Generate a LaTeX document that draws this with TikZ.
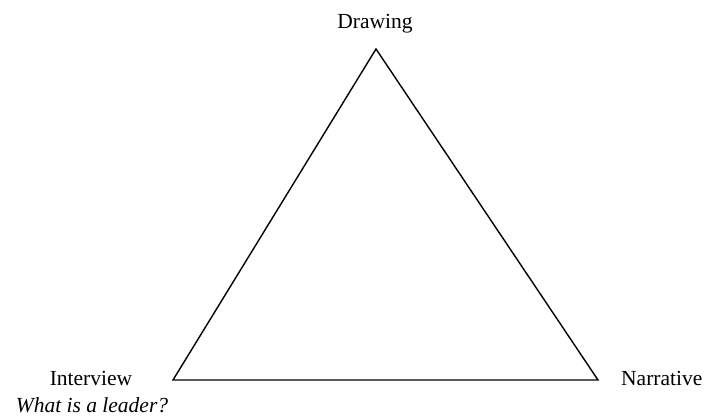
\documentclass[tikz,border=0pt]{standalone}
\usepackage{fontspec}
\setmainfont{Liberation Serif}
\begin{document}
\begin{tikzpicture}[x=1pt,y=-1pt,
  lbl/.style={inner sep=0pt,font=\fontsize{21.5}{26}\selectfont}]
\useasboundingbox (0,0) rectangle (704,417);
\coordinate (top) at (376,49);
\coordinate (bl) at (173,380);
\coordinate (br) at (598,380);
\draw[line width=1.4pt,line join=miter] (top) -- (br) -- (bl) -- cycle;
\node[lbl,anchor=base] (drawing) at (375,29) {Drawing};
\node[lbl,anchor=base] (interview) at (91,385) {Interview};
\node[lbl,anchor=base] (question) at (92,412) {\itshape What is a leader?};
\node[lbl,anchor=base west] (narrative) at (621,385) {Narrative};
\end{tikzpicture}
\end{document}
